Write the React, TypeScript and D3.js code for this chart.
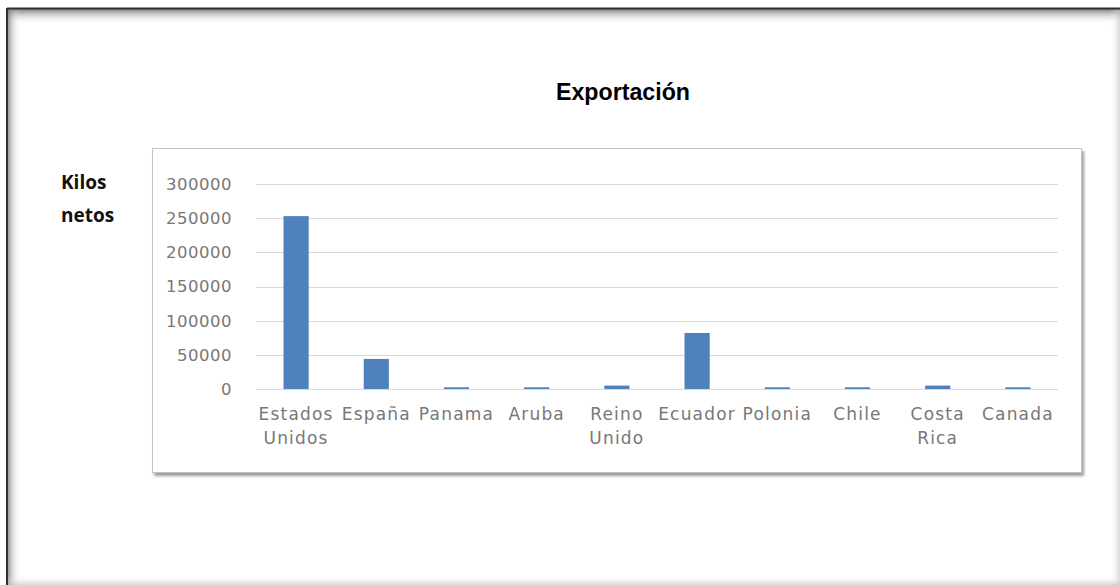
import React from "react";
import * as d3 from "d3";

const categories: string[][] = [
  ["Estados", "Unidos"],
  ["España"],
  ["Panama"],
  ["Aruba"],
  ["Reino", "Unido"],
  ["Ecuador"],
  ["Polonia"],
  ["Chile"],
  ["Costa", "Rica"],
  ["Canada"],
];
const kilos: number[] = [253000, 44000, 2500, 2500, 5000, 82000, 2500, 2500, 5000, 2500];
const yTicks: number[] = [0, 50000, 100000, 150000, 200000, 250000, 300000];

const W = 1120;
const H = 585;
const plot = { left: 256, right: 1058, top: 184, bottom: 389 };

export default function App() {
  const keys = categories.map((c) => c.join(" "));
  const x = d3
    .scaleBand<string>()
    .domain(keys)
    .range([plot.left, plot.right])
    .paddingInner(0.686)
    .paddingOuter(0.343);
  const y = d3.scaleLinear().domain([0, 300000]).range([plot.bottom, plot.top]);
  const band = (plot.right - plot.left) / keys.length;

  return (
    <div style={{ position: "fixed", left: 0, top: 0 }}>
      <svg width={W} height={H} style={{ display: "block", background: "#fff" }}>
        <defs>
          <linearGradient id="shTop" x1="0" y1="0" x2="0" y2="1">
            <stop offset="0" stopColor="#6a6a6a" stopOpacity="0.85" />
            <stop offset="0.5" stopColor="#b0b0b0" stopOpacity="0.35" />
            <stop offset="1" stopColor="#ffffff" stopOpacity="0" />
          </linearGradient>
          <linearGradient id="shLeft" x1="0" y1="0" x2="1" y2="0">
            <stop offset="0" stopColor="#6a6a6a" stopOpacity="0.8" />
            <stop offset="0.5" stopColor="#b0b0b0" stopOpacity="0.3" />
            <stop offset="1" stopColor="#ffffff" stopOpacity="0" />
          </linearGradient>
          <linearGradient id="shRight" x1="0" y1="0" x2="1" y2="0">
            <stop offset="0" stopColor="#ffffff" stopOpacity="0" />
            <stop offset="1" stopColor="#bdbdbd" stopOpacity="0.6" />
          </linearGradient>
          <linearGradient id="shBottom" x1="0" y1="0" x2="0" y2="1">
            <stop offset="0" stopColor="#ffffff" stopOpacity="0" />
            <stop offset="1" stopColor="#bdbdbd" stopOpacity="0.6" />
          </linearGradient>
          <filter id="boxShadow" x="-5%" y="-5%" width="110%" height="115%">
            <feDropShadow dx="2" dy="3" stdDeviation="1.6" floodColor="#6f6f6f" floodOpacity="0.7" />
          </filter>
        </defs>

        {/* page frame with inner shading */}
        <rect x={7} y={9} width={W} height={H} fill="#fff" />
        <rect x={7} y={9} width={W - 7} height={16} fill="url(#shTop)" />
        <rect x={7} y={9} width={14} height={H - 9} fill="url(#shLeft)" />
        <rect x={W - 10} y={9} width={10} height={H - 9} fill="url(#shRight)" />
        <rect x={7} y={H - 10} width={W - 7} height={10} fill="url(#shBottom)" />
        <line x1={7} y1={8.5} x2={W} y2={8.5} stroke="#2f2f2f" strokeWidth={2} />
        <line x1={7} y1={8} x2={7} y2={H} stroke="#2f2f2f" strokeWidth={2} />

        <text
          x={623}
          y={100}
          textAnchor="middle"
          fontFamily="Liberation Sans, Arial, sans-serif"
          fontWeight="bold"
          fontSize={24}
          textLength={134}
          lengthAdjust="spacingAndGlyphs"
          fill="#000"
        >
          Exportación
        </text>

        <g fontFamily="Open Sans, sans-serif" fontWeight="bold" fontSize={19} fill="#111">
          <text x={61} y={189}>Kilos</text>
          <text x={61} y={222}>netos</text>
        </g>

        {/* chart area */}
        <rect
          x={152.5}
          y={148.5}
          width={929}
          height={324}
          fill="#fff"
          stroke="#c4c4c4"
          strokeWidth={1}
          filter="url(#boxShadow)"
        />

        {yTicks.map((t) => (
          <g key={t}>
            <line
              x1={plot.left}
              x2={plot.right}
              y1={Math.round(y(t)) + 0.5}
              y2={Math.round(y(t)) + 0.5}
              stroke="#d9d9d9"
              strokeWidth={1}
            />
            <text
              x={232}
              y={y(t)}
              dy="0.36em"
              textAnchor="end"
              fontFamily="DejaVu Sans, sans-serif"
              fontSize={16.5}
              letterSpacing={0.5}
              fill="#777"
            >
              {t}
            </text>
          </g>
        ))}

        {keys.map((k, i) => (
          <rect
            key={k}
            x={x(k)}
            y={y(kilos[i])}
            width={x.bandwidth()}
            height={y(0) - y(kilos[i])}
            fill="#4f81bd"
          />
        ))}

        {categories.map((lines, i) => {
          const cx = plot.left + band * (i + 0.5);
          return (
            <text
              key={i}
              x={cx}
              textAnchor="middle"
              fontFamily="DejaVu Sans, sans-serif"
              fontSize={17}
              letterSpacing={1.2}
              fill="#777"
            >
              {lines.map((l, j) => (
                <tspan key={j} x={cx} y={420 + j * 24}>
                  {l}
                </tspan>
              ))}
            </text>
          );
        })}
      </svg>
    </div>
  );
}
